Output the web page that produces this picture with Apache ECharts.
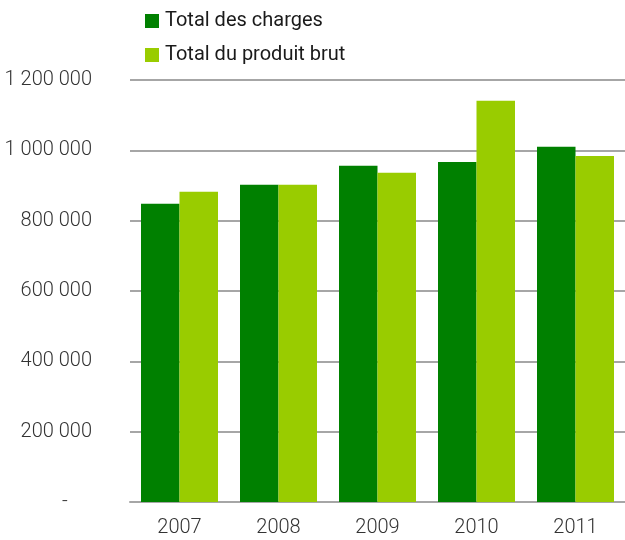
<!DOCTYPE html>
<html>
<head>
<meta charset="utf-8">
<script src="https://cdn.jsdelivr.net/npm/echarts@6/dist/echarts.min.js"></script>
<style>
  html, body { margin: 0; padding: 0; background: #fff; }
  #chart { width: 625px; height: 540px; }
</style>
</head>
<body>
<div id="chart"></div>
<script>
// années
var years = ['2007', '2008', '2009', '2010', '2011'];
// séries
var charges = [848000, 902000, 956000, 967000, 1010000];
var produitBrut = [882000, 902000, 936000, 1141000, 984000];
var seriesNames = ['Total des charges', 'Total du produit brut'];

var fontFamily = 'Roboto, "Noto Sans", sans-serif';

// format "1 200 000", zéro affiché "-"
function formatNumber(v) {
    if (v === 0) return '-     ';
    return String(v).replace(/\B(?=(\d{3})+(?!\d))/g, ' ');
}

var chart = echarts.init(document.getElementById('chart'));
chart.setOption({
    animation: false,
    textStyle: { fontFamily: fontFamily },
    legend: {
        orient: 'vertical',
        left: 145,
        top: 11,
        padding: 0,
        itemWidth: 14,
        itemHeight: 14,
        itemGap: 14,
        icon: 'rect',
        textStyle: { fontSize: 20, color: '#1a1a1a', fontFamily: fontFamily, padding: [0, 0, 0, 1] },
        data: seriesNames
    },
    grid: {
        left: 130,
        right: -1,
        top: 80,
        bottom: 38,
        containLabel: false
    },
    xAxis: {
        type: 'category',
        data: years,
        axisTick: { show: false },
        axisLine: { lineStyle: { color: '#a6a6a6', width: 2 } },
        axisLabel: { fontSize: 20, color: '#333', fontWeight: 300, margin: 16 }
    },
    yAxis: {
        type: 'value',
        min: 0,
        max: 1200000,
        interval: 200000,
        axisLine: { show: false },
        axisTick: { show: false },
        splitLine: { lineStyle: { color: '#a6a6a6', width: 2 } },
        axisLabel: {
            fontSize: 20,
            color: '#333',
            fontWeight: 300,
            margin: 38,
            formatter: formatNumber
        }
    },
    series: [
        {
            name: seriesNames[0],
            type: 'bar',
            data: charges,
            barWidth: 38.5,
            barGap: '0%',
            itemStyle: { color: '#008000' }
        },
        {
            name: seriesNames[1],
            type: 'bar',
            data: produitBrut,
            barWidth: 38.5,
            barGap: '0%',
            itemStyle: { color: '#99cc00' }
        }
    ]
});
</script>
</body>
</html>
